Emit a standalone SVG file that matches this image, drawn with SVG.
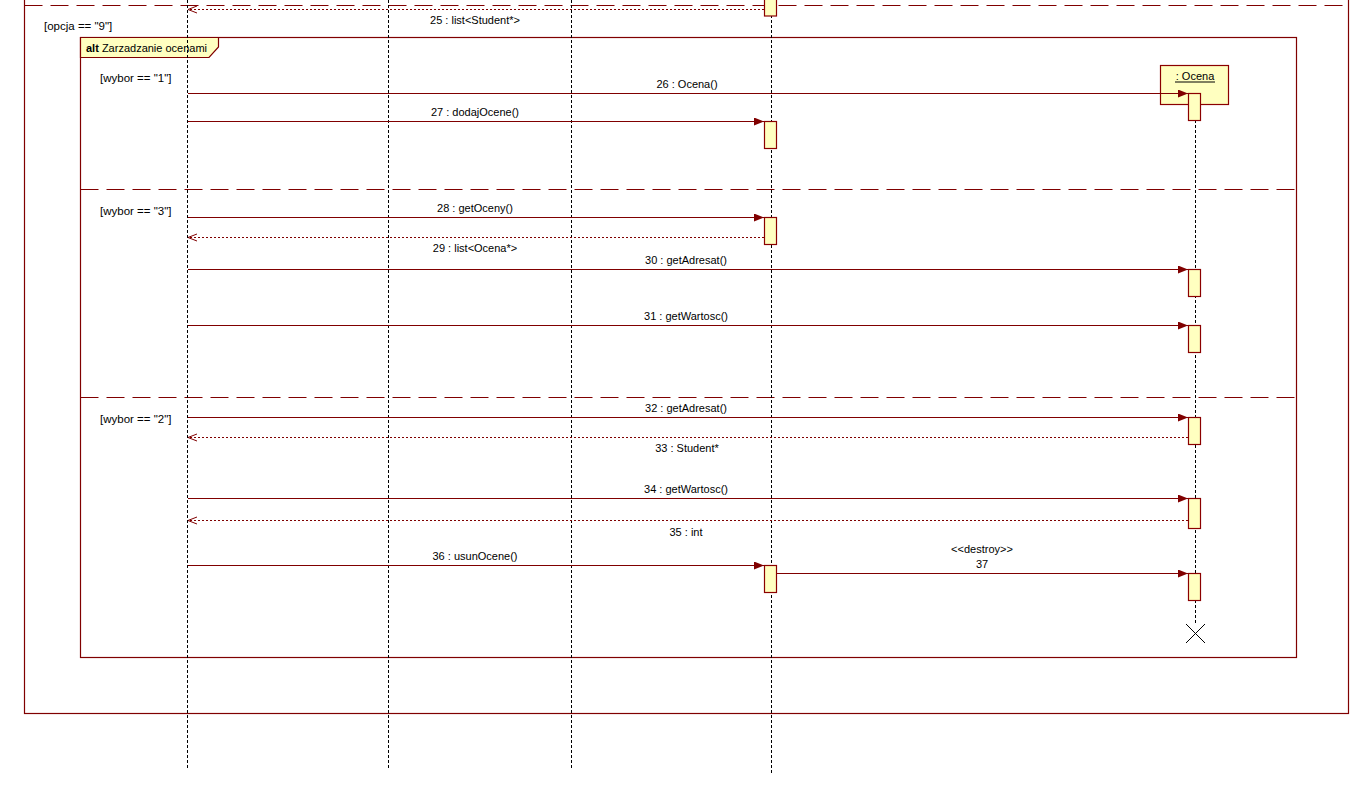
<svg xmlns="http://www.w3.org/2000/svg" width="1368" height="793" viewBox="0 0 1368 793">
<defs>
<style>
text{font-family:"Liberation Sans",Arial,sans-serif;font-size:11px;fill:#000}
.g{font-size:11.5px}
.frame{fill:none;stroke:#800000;stroke-width:1.2}
.sep{stroke:#800000;stroke-width:1.2;stroke-dasharray:18 8;fill:none}
.life{stroke:#000;stroke-width:1;stroke-dasharray:3 2;fill:none}
.act{fill:#FFFFC0;stroke:#8B0000;stroke-width:1.2}
.msg{stroke:#800000;stroke-width:1.2;fill:none;marker-end:url(#filled)}
.ret{stroke:#800000;stroke-width:1;stroke-dasharray:2 2;fill:none;marker-end:url(#open)}
.c{text-anchor:middle}
</style>
<marker id="filled" markerUnits="userSpaceOnUse" markerWidth="12" markerHeight="10" refX="10" refY="4" orient="auto">
<path d="M0,0 L10,4 L0,8 z" fill="#800000"/>
</marker>
<marker id="open" markerUnits="userSpaceOnUse" markerWidth="12" markerHeight="10" refX="9" refY="4" orient="auto">
<path d="M0,0.5 L9,4 L0,7.5" fill="none" stroke="#800000" stroke-width="1"/>
</marker>
</defs>
<rect width="1368" height="793" fill="#fff"/>

<g id="outer-frame">
<rect class="frame" x="24.5" y="-20" width="1324" height="733.5"/>
<line class="sep" x1="24.5" y1="5.5" x2="1348.5" y2="5.5"/>
<text class="g" x="44" y="30">[opcja == "9"]</text>
</g>

<g id="alt-frame">
<rect class="frame" x="80.5" y="37.5" width="1216" height="620"/>
<path d="M80.5,37.5 H218.5 V47 L209,57.5 H80.5 Z" fill="#FFFFC0" stroke="#800000" stroke-width="1.2"/>
<text x="86" y="51.5"><tspan font-weight="bold">alt</tspan> Zarzadzanie ocenami</text>
<text class="g" x="100" y="82">[wybor == "1"]</text>
<line class="sep" x1="80.5" y1="189.5" x2="1296.5" y2="189.5"/>
<text class="g" x="100" y="215">[wybor == "3"]</text>
<line class="sep" x1="80.5" y1="397.5" x2="1296.5" y2="397.5"/>
<text class="g" x="100" y="423">[wybor == "2"]</text>
</g>

<g id="lifelines">
<line class="life" x1="187.5" y1="0" x2="187.5" y2="768"/>
<line class="life" x1="388.5" y1="0" x2="388.5" y2="768"/>
<line class="life" x1="571.5" y1="0" x2="571.5" y2="768"/>
<line class="life" x1="771.5" y1="0" x2="771.5" y2="773"/>
<line class="life" x1="1195.5" y1="120" x2="1195.5" y2="624"/>
</g>

<g id="ocena">
<rect x="1160.5" y="65.5" width="68" height="39" fill="#FFFFC0" stroke="#8B0000" stroke-width="1.2"/>
<text class="c" x="1195" y="79.5">: Ocena</text>
<line x1="1175" y1="82" x2="1215" y2="82" stroke="#000" stroke-width="1"/>
<line x1="1186" y1="624" x2="1205" y2="643" stroke="#000" stroke-width="1"/>
<line x1="1205" y1="624" x2="1186" y2="643" stroke="#000" stroke-width="1"/>
</g>

<g id="activations">
<rect class="act" x="764.5" y="-5" width="12" height="21"/>
<rect class="act" x="764.5" y="121.5" width="12" height="27"/>
<rect class="act" x="764.5" y="217.5" width="12" height="27"/>
<rect class="act" x="764.5" y="565.5" width="12" height="27"/>
<rect class="act" x="1188.5" y="93.5" width="12" height="27"/>
<rect class="act" x="1188.5" y="269.5" width="12" height="27"/>
<rect class="act" x="1188.5" y="325.5" width="12" height="27"/>
<rect class="act" x="1188.5" y="417.5" width="12" height="27"/>
<rect class="act" x="1188.5" y="498.5" width="12" height="30"/>
<rect class="act" x="1188.5" y="573.5" width="12" height="27"/>
</g>

<g id="connectors">
<line class="ret" x1="764" y1="9.5" x2="188" y2="9.5"/>
<line class="msg" x1="188" y1="93.5" x2="1188" y2="93.5"/>
<line class="msg" x1="188" y1="121.5" x2="764" y2="121.5"/>
<line class="msg" x1="188" y1="217.5" x2="764" y2="217.5"/>
<line class="ret" x1="764" y1="237.5" x2="188" y2="237.5"/>
<line class="msg" x1="188" y1="269.5" x2="1188" y2="269.5"/>
<line class="msg" x1="188" y1="325.5" x2="1188" y2="325.5"/>
<line class="msg" x1="188" y1="417.5" x2="1188" y2="417.5"/>
<line class="ret" x1="1188" y1="437.5" x2="188" y2="437.5"/>
<line class="msg" x1="188" y1="498.5" x2="1188" y2="498.5"/>
<line class="ret" x1="1188" y1="520.5" x2="188" y2="520.5"/>
<line class="msg" x1="188" y1="565.5" x2="764" y2="565.5"/>
<line class="msg" x1="777" y1="573.5" x2="1188" y2="573.5"/>
</g>

<g id="labels">
<text class="c" x="475" y="24">25 : list&lt;Student*&gt;</text>
<text class="c" x="687" y="88">26 : Ocena()</text>
<text class="c" x="475" y="116">27 : dodajOcene()</text>
<text class="c" x="475" y="212">28 : getOceny()</text>
<text class="c" x="475" y="252">29 : list&lt;Ocena*&gt;</text>
<text class="c" x="686" y="264">30 : getAdresat()</text>
<text class="c" x="686" y="320">31 : getWartosc()</text>
<text class="c" x="686" y="412">32 : getAdresat()</text>
<text class="c" x="687" y="452">33 : Student*</text>
<text class="c" x="686" y="493">34 : getWartosc()</text>
<text class="c" x="686" y="536">35 : int</text>
<text class="c" x="475" y="560">36 : usunOcene()</text>
<text class="c" x="982" y="553">&lt;&lt;destroy&gt;&gt;</text>
<text class="c" x="982" y="568">37</text>
</g>
</svg>
